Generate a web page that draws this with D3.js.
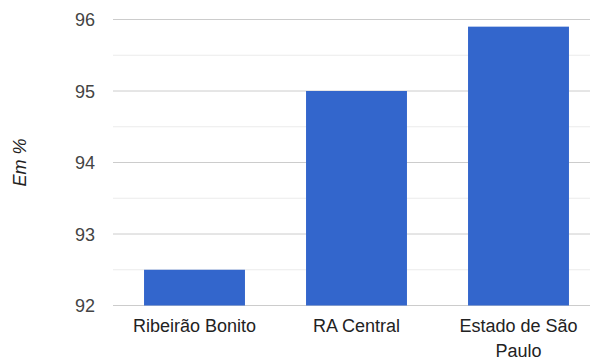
<!DOCTYPE html>
<html><head><meta charset="utf-8">
<script src="https://cdn.jsdelivr.net/npm/d3@7"></script>
<style>body{margin:0;background:#fff}svg{display:block}</style>
</head><body>
<script>
const categories = ["Ribeirão Bonito", "RA Central", "Estado de São Paulo"];
const values = [92.5, 95.0, 95.9];
const yTicks = [92, 93, 94, 95, 96];
const yMinorTicks = [92.5, 93.5, 94.5, 95.5];
const yTitle = "Em %";

const W = 590, H = 361;
const svg = d3.select("body").append("svg").attr("width", W).attr("height", H);
const font = "Arial, 'Liberation Sans', sans-serif";

const x = d3.scaleBand().domain(categories).range([113.5, 599.5])
  .paddingInner(0.377).paddingOuter(0.1885);
const y = d3.scaleLinear().domain([92, 96]).range([305.5, 19.5]);

// minor gridlines
svg.append("g").selectAll("line").data(yMinorTicks).join("line")
  .attr("x1", 113).attr("x2", W).attr("y1", d => y(d)).attr("y2", d => y(d))
  .attr("stroke", "#ebebeb").attr("stroke-width", 1);
// major gridlines
svg.append("g").selectAll("line").data(yTicks).join("line")
  .attr("x1", 113).attr("x2", W).attr("y1", d => y(d)).attr("y2", d => y(d))
  .attr("stroke", "#cccccc").attr("stroke-width", 1);

// bars
svg.append("g").selectAll("rect").data(categories).join("rect")
  .attr("x", d => x(d)).attr("width", x.bandwidth())
  .attr("y", (d, i) => y(values[i])).attr("height", (d, i) => y(92) - y(values[i]))
  .attr("fill", "#3366cc");

// y tick labels
svg.append("g").selectAll("text").data(yTicks).join("text")
  .attr("x", 95).attr("y", d => y(d) + 6.5)
  .attr("text-anchor", "end").attr("font-family", font).attr("font-size", 18)
  .attr("fill", "#444").text(d => d);

// x labels (wrapped)
const xl = svg.append("g").selectAll("text").data(categories).join("text")
  .attr("text-anchor", "middle").attr("font-family", font).attr("font-size", 18)
  .attr("fill", "#222");
xl.each(function(d) {
  const t = d3.select(this);
  const cx = x(d) + x.bandwidth() / 2;
  const lines = d === "Estado de São Paulo" ? ["Estado de São", "Paulo"] : [d];
  lines.forEach((ln, i) => {
    t.append("tspan").attr("x", cx).attr("y", 332 + i * 24.5).text(ln);
  });
});

// y title
svg.append("text")
  .attr("transform", `translate(26,${y(94)}) rotate(-90)`)
  .attr("text-anchor", "middle").attr("font-family", font).attr("font-size", 18)
  .attr("font-style", "italic").attr("fill", "#222").text(yTitle);
</script>
</body></html>
